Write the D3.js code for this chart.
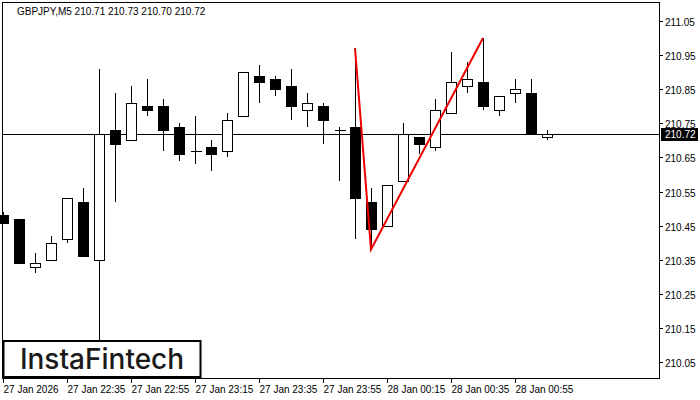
<!DOCTYPE html>
<html><head><meta charset="utf-8">
<script src="https://cdn.jsdelivr.net/npm/d3@7"></script>
<style>body{margin:0;background:#fff}svg{display:block;font-family:"Liberation Sans",Arial,sans-serif}</style>
</head><body><svg id="c" width="700" height="400"></svg>
<script>
const opens  = [210.481,210.47,210.33,210.35,210.41,210.52,210.35,210.73,210.70,210.80,210.80,210.74,210.67,210.68,210.67,210.77,210.89,210.88,210.86,210.79,210.80,210.73,210.74,210.52,210.45,210.58,210.71,210.68,210.78,210.86,210.87,210.79,210.84,210.84,210.71];
const closes = [210.458,210.34,210.34,210.40,210.53,210.36,210.72,210.69,210.81,210.79,210.73,210.66,210.67,210.66,210.76,210.90,210.87,210.85,210.80,210.81,210.76,210.73,210.53,210.44,210.57,210.72,210.69,210.79,210.87,210.88,210.80,210.83,210.85,210.72,210.72];
const highs  = [210.49,210.47,210.37,210.42,210.53,210.56,210.91,210.84,210.86,210.88,210.82,210.75,210.77,210.70,210.78,210.90,210.92,210.89,210.91,210.84,210.81,210.74,210.97,210.56,210.57,210.75,210.71,210.82,210.96,210.93,211.00,210.83,210.88,210.88,210.73];
const lows   = [210.458,210.34,210.31,210.35,210.40,210.36,210.11,210.52,210.70,210.77,210.67,210.64,210.63,210.61,210.65,210.77,210.81,210.83,210.76,210.74,210.69,210.58,210.41,210.38,210.45,210.58,210.66,210.67,210.78,210.84,210.79,210.77,210.81,210.72,210.70];
const patternIdx = [22,23,30];
const patternVal = [210.97,210.38,211.00];
const yTicks = [211.05,210.95,210.85,210.75,210.65,210.55,210.45,210.35,210.25,210.15,210.05];
const xLabelIdx = [0,4,8,12,16,20,24,28,32];
const xLabels = ["27 Jan 2026","27 Jan 22:35","27 Jan 22:55","27 Jan 23:15","27 Jan 23:35","27 Jan 23:55","28 Jan 00:15","28 Jan 00:35","28 Jan 00:55"];
const lastPrice = 210.72;

const svg = d3.select("#c");
const L=2, R=659, T=2, B=378;
const x = d3.scaleLinear().domain([0,1]).range([3,19]);
const y = d3.scaleLinear().domain([210.05,211.05]).range([362,21]);

svg.append("rect").attr("x",L+0.5).attr("y",T+0.5).attr("width",R-L).attr("height",B-T).attr("fill","#fff").attr("stroke","#000");
const g = svg.append("g").attr("shape-rendering","crispEdges");
g.append("line").attr("x1",L).attr("x2",R).attr("y1",Math.round(y(lastPrice))+0.5).attr("y2",Math.round(y(lastPrice))+0.5).attr("stroke","#000");
opens.forEach((o,i)=>{
  const cx=Math.round(x(i))+0.5, c=closes[i];
  const top=Math.round(y(Math.max(o,c))), bot=Math.round(y(Math.min(o,c)));
  g.append("line").attr("x1",cx).attr("x2",cx).attr("y1",y(highs[i])).attr("y2",y(lows[i])).attr("stroke","#000");
  if(bot-top<1){
    g.append("line").attr("x1",cx-5).attr("x2",cx+6).attr("y1",top+0.5).attr("y2",top+0.5).attr("stroke","#000");
  } else {
    g.append("rect").attr("x",cx-5).attr("y",top+0.5).attr("width",10).attr("height",bot-top)
     .attr("fill",c<o?"#000":"#fff").attr("stroke","#000");
  }
});
svg.append("path").attr("d",d3.line().x(d=>x(d[0])).y(d=>y(d[1]))(patternIdx.map((d,i)=>[d,patternVal[i]])))
  .attr("fill","none").attr("stroke","#e00").attr("stroke-width",2);
yTicks.forEach(v=>{
  const yy=Math.round(y(v))+0.5;
  g.append("line").attr("x1",R).attr("x2",R+4).attr("y1",yy).attr("y2",yy).attr("stroke","#000");
  svg.append("text").attr("x",665).attr("y",yy+4).attr("font-size",10).text(v.toFixed(2));
});
const ly=Math.round(y(lastPrice));
svg.append("rect").attr("x",R+2).attr("y",ly-6).attr("width",37).attr("height",13).attr("fill","#000");
svg.append("text").attr("x",665).attr("y",ly+4).attr("font-size",10).attr("fill","#fff").text(lastPrice.toFixed(2));
xLabelIdx.forEach((idx,i)=>{
  const xx=Math.round(x(idx))+0.5;
  g.append("line").attr("x1",xx).attr("x2",xx).attr("y1",B).attr("y2",B+5).attr("stroke","#000");
  svg.append("text").attr("x",xx).attr("y",393).attr("font-size",10).text(xLabels[i]);
});
svg.append("text").attr("x",17).attr("y",15).attr("font-size",10).text("GBPJPY,M5  210.71 210.73 210.70 210.72");
svg.append("rect").attr("x",3.5).attr("y",341).attr("width",197).attr("height",36).attr("fill","#fff").attr("stroke","#000").attr("stroke-width",2);
svg.append("text").attr("x",102).attr("y",369).attr("text-anchor","middle").attr("font-size",28).attr("font-weight",500).attr("font-family","Inter, Lato, sans-serif").attr("fill","#1a1a1a").text("InstaFintech");
</script></body></html>
